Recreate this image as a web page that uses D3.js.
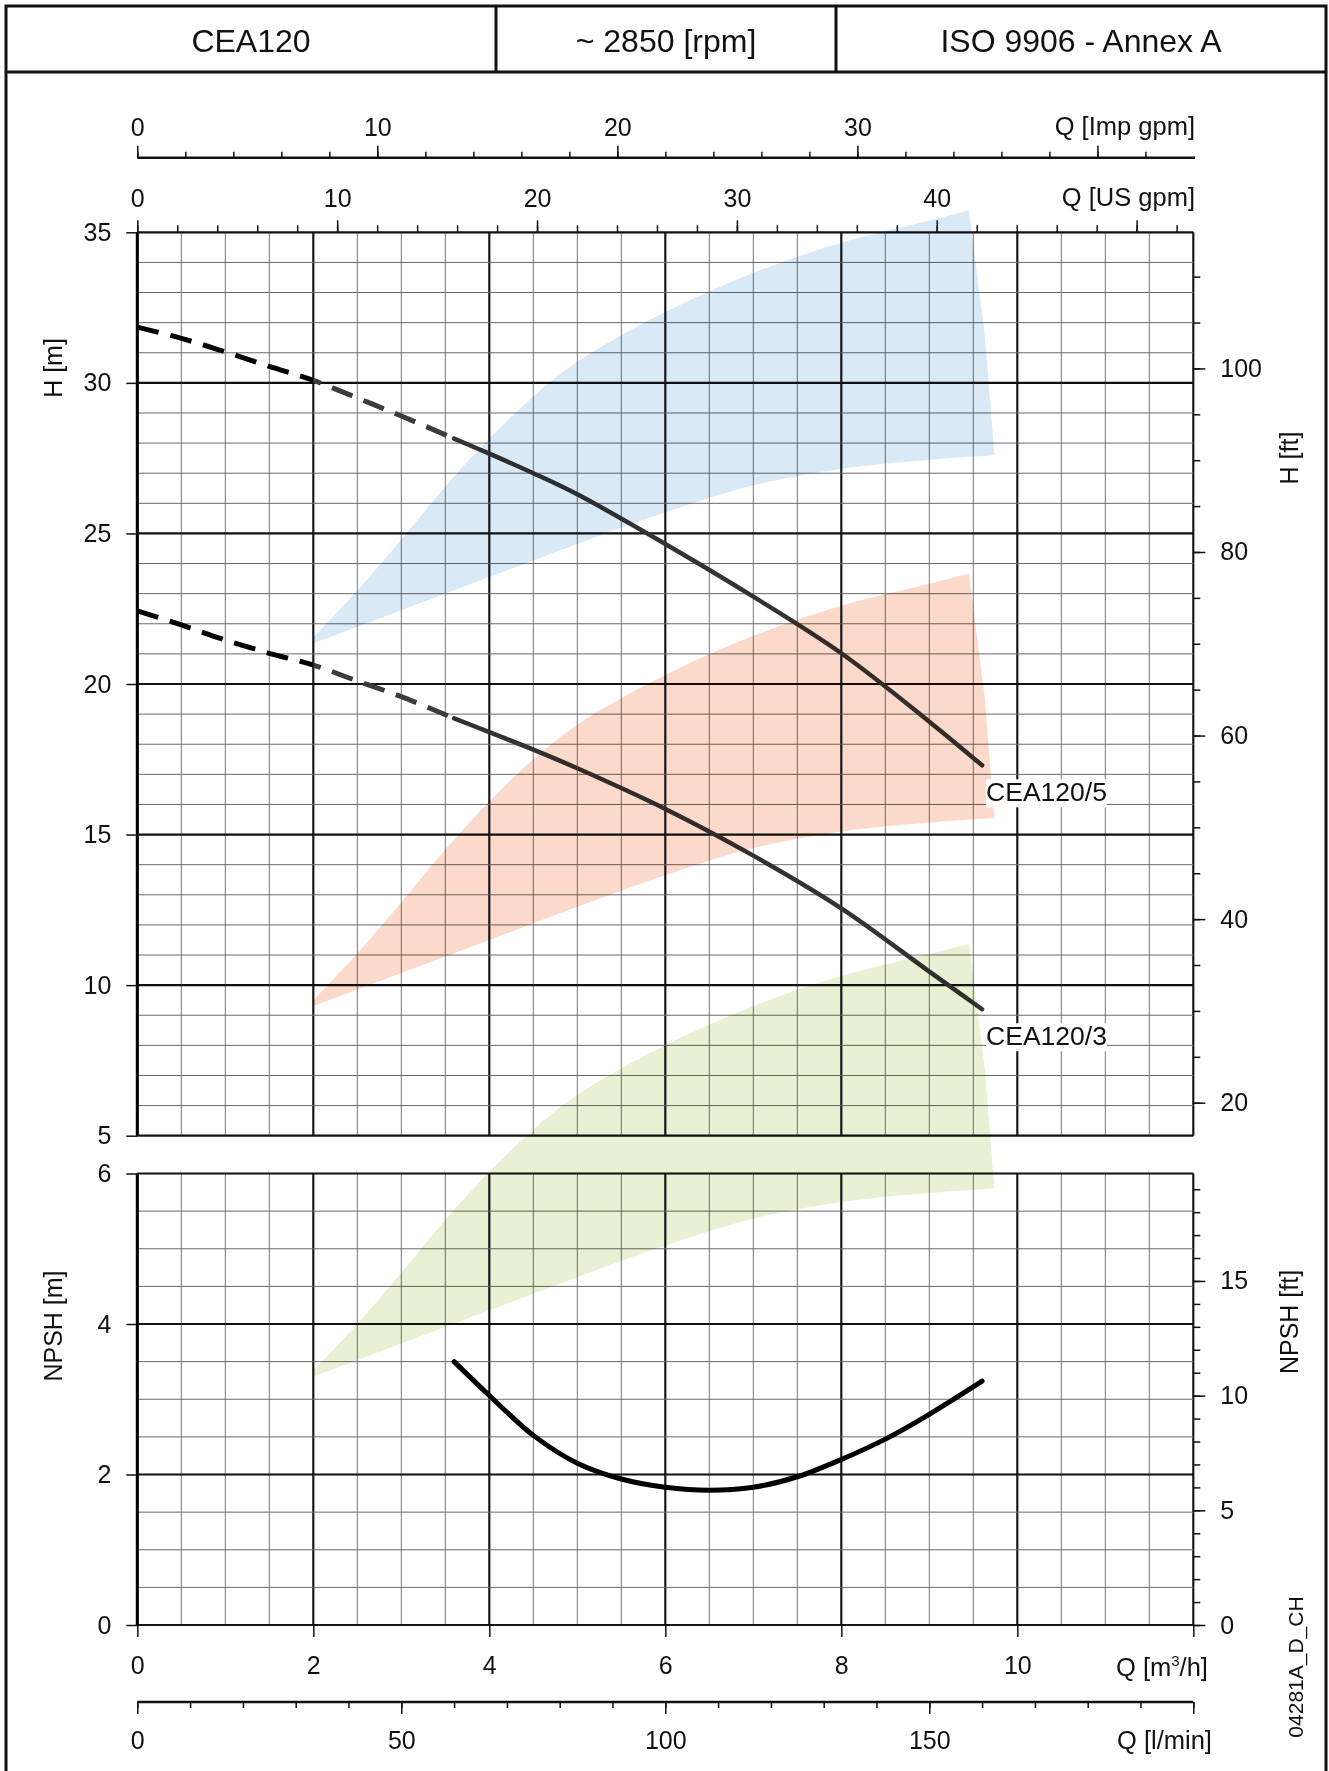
<!DOCTYPE html>
<html>
<head>
<meta charset="utf-8">
<title>CEA120 - pump curves</title>
<script src="https://cdnjs.cloudflare.com/ajax/libs/d3/7.8.5/d3.min.js"></script>
<style>
  body { margin: 0; background: #fff; }
  svg text { font-family: "Liberation Sans", Arial, sans-serif; fill: #111; }
</style>
</head>
<body>
<svg id="chart"></svg>
<script>
var width = 1329, height = 1771;

var headerCells = ["CEA120", "~ 2850 [rpm]", "ISO 9906 - Annex A"];

// head curves, Q in m3/h, H in m
var curveQ  = [0, 0.5, 1, 1.5, 2, 2.5, 3, 3.6, 4, 4.5, 5, 6, 7, 8, 9, 9.6];
var curve5H = [31.85, 31.48, 31.03, 30.55, 30.08, 29.5, 28.9, 28.15, 27.65, 27.0, 26.3, 24.65, 22.9, 21.02, 18.75, 17.3];
var curve3H = [22.43, 21.96, 21.46, 21.02, 20.63, 20.1, 19.58, 18.86, 18.4, 17.82, 17.2, 15.85, 14.3, 12.55, 10.45, 9.2];
var curveNames = ["CEA120/5", "CEA120/3"];
var dashedUntil = 3.6;

// NPSH curve
var npshQ = [3.6, 4, 4.5, 5, 5.5, 6, 6.5, 7, 7.5, 8, 8.5, 9, 9.6];
var npshM = [3.5, 3.05, 2.52, 2.15, 1.94, 1.83, 1.79, 1.83, 1.97, 2.2, 2.47, 2.8, 3.24];

// shaded ranges, given as (Q, H) on the head scale
var blueTop    = [[2, 21.55], [2.5, 23.1], [3, 24.8], [3.5, 26.55], [4, 28.15], [4.5, 29.55], [5, 30.7], [6, 32.35], [7, 33.65], [8, 34.65], [9, 35.38], [9.45, 35.72]];
var blueSide   = [[9.63, 31.6]];
var blueBottom = [[9.74, 27.6], [9, 27.45], [8, 27.15], [7, 26.6], [6, 25.7], [5, 24.65], [4, 23.55], [3, 22.45], [2, 21.35]];

var redTop    = [[2, 9.5], [2.5, 11.05], [3, 12.75], [3.5, 14.5], [4, 16.1], [4.5, 17.5], [5, 18.65], [6, 20.3], [7, 21.6], [8, 22.6], [9, 23.33], [9.45, 23.67]];
var redSide   = [[9.63, 19.55]];
var redBottom = [[9.74, 15.55], [9, 15.4], [8, 15.1], [7, 14.55], [6, 13.65], [5, 12.6], [4, 11.5], [3, 10.4], [2, 9.3]];

var greenTop    = [[2, -2.8], [2.5, -1.25], [3, 0.45], [3.5, 2.2], [4, 3.8], [4.5, 5.2], [5, 6.35], [6, 8.0], [7, 9.3], [8, 10.3], [9, 11.03], [9.45, 11.37]];
var greenSide   = [[9.63, 7.25]];
var greenBottom = [[9.74, 3.25], [9, 3.1], [8, 2.8], [7, 2.25], [6, 1.35], [5, 0.3], [4, -0.8], [3, -1.9], [2, -3.0]];

var bandColors = ["#d9e9f6", "#fcdacb", "#e9f0d4"];

// tick labels
var impLabels  = [0, 10, 20, 30];
var usLabels   = [0, 10, 20, 30, 40];
var m3hLabels  = [0, 2, 4, 6, 8, 10];
var lminLabels = [0, 50, 100, 150];
var hLabels    = [5, 10, 15, 20, 25, 30, 35];
var hftLabels  = [20, 40, 60, 80, 100];
var npshLabels = [0, 2, 4, 6];
var npshFtLabels = [0, 5, 10, 15];

var svg = d3.select("#chart").attr("width", width).attr("height", height);

// scales
var x = d3.scaleLinear().domain([0, 12]).range([137.3, 1193.3]);
var xImp = d3.scaleLinear().domain([0, 12 * 3.6662]).range(x.range());
var xUs = d3.scaleLinear().domain([0, 12 * 4.4029]).range(x.range());
var xLmin = d3.scaleLinear().domain([0, 200]).range(x.range());
var yH = d3.scaleLinear().domain([5, 35]).range([1135.7, 232.3]);
var yHft = d3.scaleLinear().domain([5 * 3.28084, 35 * 3.28084]).range(yH.range());
var yN = d3.scaleLinear().domain([0, 6]).range([1625, 1173.5]);
var yNft = d3.scaleLinear().domain([0, 6 * 3.28084]).range(yN.range());

// frame + header
svg.append("rect").attr("x", 6).attr("y", 6).attr("width", 1320).attr("height", 1800)
  .attr("fill", "none").attr("stroke", "#111").attr("stroke-width", 3);
svg.append("line").attr("x1", 6).attr("x2", 1326).attr("y1", 72).attr("y2", 72)
  .attr("stroke", "#111").attr("stroke-width", 3);
[496, 836].forEach(function (d) {
  svg.append("line").attr("x1", d).attr("x2", d).attr("y1", 6).attr("y2", 72)
    .attr("stroke", "#111").attr("stroke-width", 3);
});
var cellCenters = [251, 666, 1081];
headerCells.forEach(function (t, i) {
  svg.append("text").attr("x", cellCenters[i]).attr("y", 52)
    .attr("text-anchor", "middle").style("font-size", "32px").text(t);
});

// grid
function grid(yScale, yStep, yMajor) {
  var g = svg.append("g");
  var y0 = yScale.domain()[0], y1 = yScale.domain()[1];
  d3.range(0, 12.001, 0.5).forEach(function (q) {
    var major = Math.abs(q % 2) < 1e-6;
    g.append("line").attr("x1", x(q)).attr("x2", x(q))
      .attr("y1", yScale(y0)).attr("y2", yScale(y1))
      .attr("stroke", major ? "#1a1a1a" : "#777")
      .attr("stroke-width", major ? 2.2 : 1);
  });
  d3.range(y0, y1 + 0.001, yStep).forEach(function (v) {
    var major = Math.abs(v % yMajor) < 1e-6;
    g.append("line").attr("x1", x(0)).attr("x2", x(12))
      .attr("y1", yScale(v)).attr("y2", yScale(v))
      .attr("stroke", major ? "#111" : "#6a6a6a")
      .attr("stroke-width", major ? 2.2 : 1);
  });
  g.append("line").attr("x1", x(0)).attr("x2", x(0))
    .attr("y1", yScale(y0)).attr("y2", yScale(y1))
    .attr("stroke", "#000").attr("stroke-width", 3);
}
grid(yH, 1, 5);
grid(yN, 0.5, 2);

// axes helper
function styleAxis(g, size) {
  g.select(".domain").remove();
  g.selectAll("line").attr("stroke", "#111").attr("stroke-width", 1.5);
  g.selectAll("text").style("font-size", size || "25px").attr("fill", "#111");
}
var fmt = d3.format("d");

// top: Imp gpm
svg.append("line").attr("x1", x(0)).attr("x2", 1195).attr("y1", 157.7).attr("y2", 157.7)
  .attr("stroke", "#111").attr("stroke-width", 2.5);
svg.append("g").attr("transform", "translate(0,157.7)")
  .call(d3.axisTop(xImp).tickValues(d3.range(0, 43, 2)).tickSize(6).tickFormat(""))
  .call(styleAxis);
svg.append("g").attr("transform", "translate(0,157.7)")
  .call(d3.axisTop(xImp).tickValues([0, 10, 20, 30, 40]).tickSize(12).tickPadding(10)
    .tickFormat(function (d) { return impLabels.indexOf(d) >= 0 ? d : ""; }))
  .call(styleAxis);
svg.append("text").attr("x", 1195).attr("y", 135).attr("text-anchor", "end")
  .style("font-size", "25.5px").text("Q [Imp gpm]");

// US gpm on top of head chart
svg.append("g").attr("transform", "translate(0," + yH(35) + ")")
  .call(d3.axisTop(xUs).tickValues(d3.range(0, 53, 2)).tickSize(7).tickFormat(""))
  .call(styleAxis);
svg.append("g").attr("transform", "translate(0," + yH(35) + ")")
  .call(d3.axisTop(xUs).tickValues([0, 10, 20, 30, 40, 50]).tickSize(12).tickPadding(13)
    .tickFormat(function (d) { return usLabels.indexOf(d) >= 0 ? d : ""; }))
  .call(styleAxis);
svg.append("text").attr("x", 1195).attr("y", 206).attr("text-anchor", "end")
  .style("font-size", "25.5px").text("Q [US gpm]");

// left axes
svg.append("g").attr("transform", "translate(" + x(0) + ",0)")
  .call(d3.axisLeft(yH).tickValues(hLabels).tickSize(11).tickPadding(15).tickFormat(fmt))
  .call(styleAxis);
svg.append("g").attr("transform", "translate(" + x(0) + ",0)")
  .call(d3.axisLeft(yN).tickValues(npshLabels).tickSize(11).tickPadding(15).tickFormat(fmt))
  .call(styleAxis);

// right axes (feet)
svg.append("g").attr("transform", "translate(" + x(12) + ",0)")
  .call(d3.axisRight(yHft).tickValues(d3.range(20, 111, 5)).tickSize(7).tickFormat(""))
  .call(styleAxis);
svg.append("g").attr("transform", "translate(" + x(12) + ",0)")
  .call(d3.axisRight(yHft).tickValues(hftLabels).tickSize(12).tickPadding(15).tickFormat(fmt))
  .call(styleAxis);
svg.append("g").attr("transform", "translate(" + x(12) + ",0)")
  .call(d3.axisRight(yNft).tickValues(d3.range(0, 20, 1)).tickSize(7).tickFormat(""))
  .call(styleAxis);
svg.append("g").attr("transform", "translate(" + x(12) + ",0)")
  .call(d3.axisRight(yNft).tickValues(npshFtLabels).tickSize(12).tickPadding(15).tickFormat(fmt))
  .call(styleAxis);

// bottom m3/h
svg.append("g").attr("transform", "translate(0," + yN(0) + ")")
  .call(d3.axisBottom(x).tickValues(d3.range(0, 13, 2)).tickSize(12).tickPadding(19)
    .tickFormat(function (d) { return m3hLabels.indexOf(d) >= 0 ? d : ""; }))
  .call(styleAxis);
var qm = svg.append("text").attr("x", 1116).attr("y", 1676).style("font-size", "25.5px");
qm.append("tspan").text("Q [m");
qm.append("tspan").attr("dy", -10).style("font-size", "15px").text("3");
qm.append("tspan").attr("dy", 10).text("/h]");

// bottom l/min
svg.append("line").attr("x1", x(0)).attr("x2", x(12)).attr("y1", 1702).attr("y2", 1702)
  .attr("stroke", "#111").attr("stroke-width", 2.5);
svg.append("g").attr("transform", "translate(0,1702)")
  .call(d3.axisBottom(xLmin).tickValues(d3.range(0, 201, 10)).tickSize(6).tickFormat(""))
  .call(styleAxis);
svg.append("g").attr("transform", "translate(0,1702)")
  .call(d3.axisBottom(xLmin).tickValues([0, 50, 100, 150, 200]).tickSize(12).tickPadding(17)
    .tickFormat(function (d) { return lminLabels.indexOf(d) >= 0 ? d : ""; }))
  .call(styleAxis);
svg.append("text").attr("x", 1117).attr("y", 1749).style("font-size", "25.5px").text("Q [l/min]");

// axis titles
function vtitle(t, cx, cy, size) {
  svg.append("text").attr("transform", "translate(" + cx + "," + cy + ") rotate(-90)")
    .attr("text-anchor", "middle").attr("dy", "0.35em")
    .style("font-size", size || "25px").text(t);
}
vtitle("H [m]", 53, 368);
vtitle("NPSH [m]", 53, 1326);
vtitle("H [ft]", 1289, 458);
vtitle("NPSH [ft]", 1289, 1322);
vtitle("04281A_D_CH", 1296, 1667, "21px");

// dashed part fades from black to dark grey past Q = 2
var grad = svg.append("defs").append("linearGradient").attr("id", "dashFade")
  .attr("gradientUnits", "userSpaceOnUse")
  .attr("x1", x(0)).attr("x2", x(dashedUntil)).attr("y1", 0).attr("y2", 0);
grad.append("stop").attr("offset", (x(2) - x(0)) / (x(dashedUntil) - x(0))).attr("stop-color", "#000");
grad.append("stop").attr("offset", (x(2) - x(0)) / (x(dashedUntil) - x(0)) + 0.001).attr("stop-color", "#3c3c3c");

// head curves
var lineH = d3.line().x(function (d) { return x(d[0]); }).y(function (d) { return yH(d[1]); })
  .curve(d3.curveCatmullRom.alpha(0.5));
[curve5H, curve3H].forEach(function (hs) {
  var pts = curveQ.map(function (q, i) { return [q, hs[i]]; });
  var dashed = pts.filter(function (p) { return p[0] <= dashedUntil; });
  var solid = pts.filter(function (p) { return p[0] >= dashedUntil; });
  svg.append("path").attr("d", lineH(dashed)).attr("fill", "none")
    .attr("stroke", "url(#dashFade)").attr("stroke-width", 5).attr("stroke-dasharray", "22,12");
  svg.append("path").attr("d", lineH(solid)).attr("fill", "none")
    .attr("stroke", "#333").attr("stroke-width", 4.5).attr("stroke-linecap", "round");
});

// NPSH curve
var lineN = d3.line().x(function (d) { return x(d[0]); }).y(function (d) { return yN(d[1]); })
  .curve(d3.curveCatmullRom.alpha(0.5));
svg.append("path").attr("d", lineN(npshQ.map(function (q, i) { return [q, npshM[i]]; })))
  .attr("fill", "none").attr("stroke", "#000").attr("stroke-width", 5)
  .attr("stroke-linecap", "round");

// shaded ranges on top, multiplied
var smooth = d3.line().x(function (d) { return x(d[0]); }).y(function (d) { return yH(d[1]); })
  .curve(d3.curveCatmullRom.alpha(0.5));
function bandPath(top, side, bottom) {
  var s = side.map(function (p) { return "L" + x(p[0]) + "," + yH(p[1]); }).join("");
  return smooth(top) + s + smooth(bottom).replace(/^M/, "L") + "Z";
}
[[blueTop, blueSide, blueBottom], [redTop, redSide, redBottom], [greenTop, greenSide, greenBottom]]
  .forEach(function (b, i) {
    svg.append("path").attr("d", bandPath(b[0], b[1], b[2]))
      .attr("fill", bandColors[i]).style("mix-blend-mode", "multiply");
  });

// curve names with white backing
[curve5H, curve3H].forEach(function (hs, i) {
  var qEnd = curveQ[curveQ.length - 1], hEnd = hs[hs.length - 1];
  var t = svg.append("text").attr("x", x(qEnd) + 4).attr("y", yH(hEnd) + 36)
    .style("font-size", "26.5px").text(curveNames[i]);
  var bb = t.node().getBBox();
  svg.insert("rect", function () { return t.node(); })
    .attr("x", bb.x).attr("y", bb.y + 2).attr("width", bb.width).attr("height", bb.height - 2)
    .attr("fill", "#fff");
});
</script>
</body>
</html>
